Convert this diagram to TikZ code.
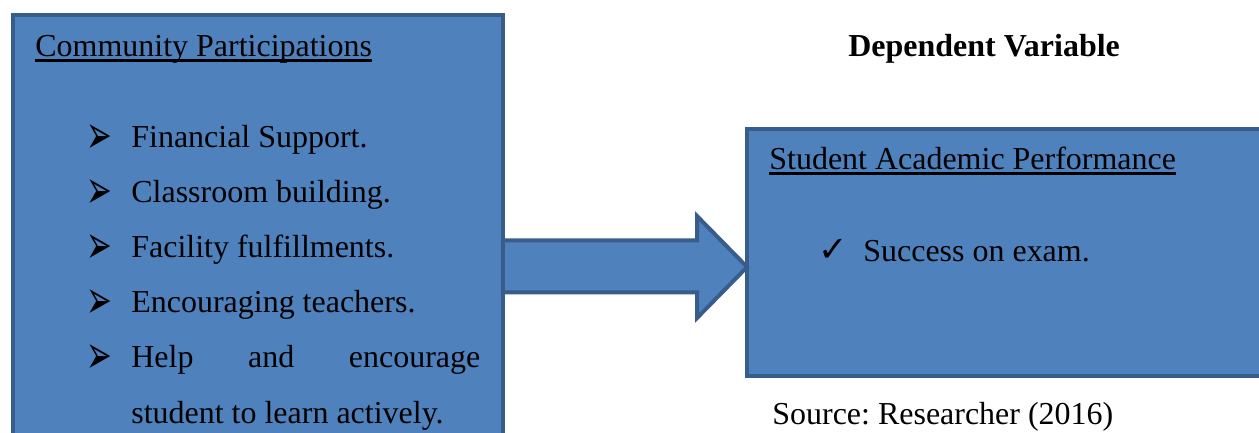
\documentclass[tikz,border=0pt]{standalone}
\usepackage{fontspec}
\setmainfont{Liberation Serif}
\newfontfamily\symfont{DejaVu Sans}
\definecolor{boxfill}{HTML}{4F81BD}
\definecolor{boxline}{HTML}{385D8A}
\newcommand{\undl}[1]{\setbox0\hbox{#1}\rlap{\rule[-2.6pt]{\wd0}{1.2pt}}\box0}
\newcommand{\bul}{\raisebox{-0.12cm}{\scalebox{1.25}[2.2]{\symfont\fontsize{14pt}{14pt}\selectfont ➢}}}
\newcommand{\chk}{{\symfont\fontsize{20pt}{20pt}\selectfont ✓}}
\begin{document}
\frenchspacing
\begin{tikzpicture}[x=0.02cm,y=0.02cm]
          \tikzstyle{box}=[rectangle,draw=boxline,fill=boxfill,line width=0.08cm,inner sep=0pt,outer sep=0pt]
          \tikzstyle{txt}=[anchor=base west,inner sep=0pt,font=\fontsize{18.2pt}{22pt}\selectfont]
          \tikzstyle{blockarrow}=[draw=boxline,fill=boxfill,line width=0.08cm,line join=miter]
          \useasboundingbox (0,0) rectangle (1259,433);
          \begin{scope}
             \node [box,minimum width=9.8cm,minimum height=8.76cm] (cp) at (258,199) {};
             \node [box,minimum width=10.66cm,minimum height=4.94cm] (spa) at (1013.5,180.5) {};
             \path[blockarrow] (cp.east |- 0,192.5) -- (697,192.5) -- (697,217) -- (spa.west |- 0,166)
                -- (697,115) -- (697,140.5) -- (cp.east |- 0,140.5) -- cycle;
          \end{scope}
          \begin{scope}
             \node [txt] (cpt) at (35,376) {\undl{Community Participations}};
             \node [txt] (b1) at (86,285) {\bul};
             \node [txt] (i1) at (131,285) {Financial Support.};
             \node [txt] (b2) at (86,230) {\bul};
             \node [txt] (i2) at (131,230) {Classroom building.};
             \node [txt] (b3) at (86,175) {\bul};
             \node [txt] (i3) at (131,175) {Facility fulfillments.};
             \node [txt] (b4) at (86,120) {\bul};
             \node [txt] (i4) at (131,120) {Encouraging teachers.};
             \node [txt] (b5) at (86,65) {\bul};
             \node [txt] (i5) at (131,65) {\hbox to 6.98cm{Help\hfill and\hfill encourage}};
             \node [txt] (i5b) at (131,9) {student to learn actively.};
             \node [txt,font=\fontsize{18.2pt}{22pt}\selectfont\bfseries] (dv) at (848,376) {Dependent Variable};
             \node [txt] (spat) at (769,263) {\undl{Student Academic Performance}};
             \node [txt] (c1) at (818,171) {\chk};
             \node [txt] (j1) at (863,171) {Success on exam.};
             \node [txt] (src) at (772,8) {Source: Researcher (2016)};
          \end{scope}
        \end{tikzpicture}
\end{document}
